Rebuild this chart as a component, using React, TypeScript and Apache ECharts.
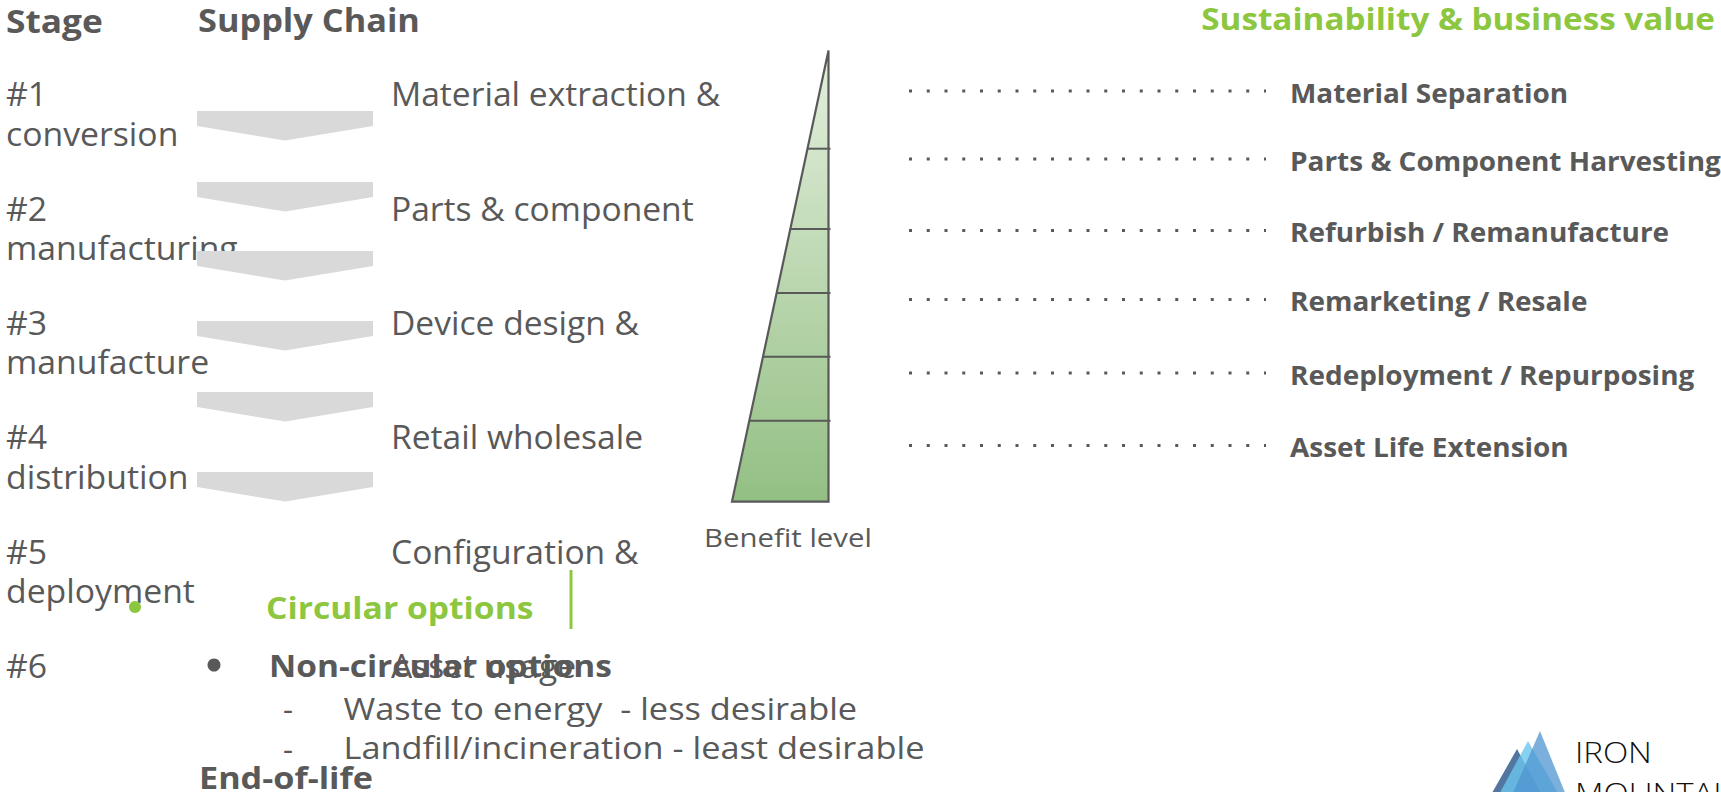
import React, { useEffect, useRef } from "react";
import * as echarts from "echarts";

// ---------- data ----------
const headers = ["Stage", "Supply Chain"];
const stageNums = ["#1", "#2", "#3", "#4", "#5", "#6"];
const stageNames = ["conversion", "manufacturing", "manufacture", "distribution", "deployment", ""];
const supplyChain = [
  "Material extraction &",
  "Parts & component",
  "Device design &",
  "Retail wholesale",
  "Configuration &",
  "Asset usage",
];
const valueTitle = "Sustainability & business value";
const valueOptions = [
  "Material Separation",
  "Parts & Component Harvesting",
  "Refurbish / Remanufacture",
  "Remarketing / Resale",
  "Redeployment / Repurposing",
  "Asset Life Extension",
];
const benefitLabel = "Benefit level";
const circularTitle = "Circular options";
const nonCircularTitle = "Non-circular options";
const nonCircularItems = ["Waste to energy  - less desirable", "Landfill/incineration - least desirable"];
const endOfLife = "End-of-life";
const logoWords = ["IRON", "MOUNTAIN"];

// ---------- layout ----------
const FONT = "'Open Sans', sans-serif";
const GREY = "#595959";
const GREEN = "#8dc63f";
const rowY0 = 94;
const rowGap = 114.4;
const lineGap = 39.5;
const chevronTops = [111, 182, 251, 321, 392, 472];
const triTop = { x: 828.5, y: 50.5 };
const triBottom = 501.6;
const triLeft = 732;
const triTicks = [148.7, 229, 293, 356.7, 420.7];
const valueY = [91, 159, 230.5, 299.6, 373, 445.6];

function txt(
  text: string,
  x: number,
  y: number,
  size: number,
  weight: any,
  color: string,
  sx = 1,
  align = "left",
  z = 1
) {
  return {
    type: "text",
    x,
    y,
    z,
    scaleX: sx,
    style: {
      text,
      fill: color,
      fontSize: size,
      fontWeight: weight,
      fontFamily: FONT,
      align,
      verticalAlign: "middle",
      textAlign: align,
      textVerticalAlign: "middle",
    },
  };
}

function buildOption() {
  const el: any[] = [];
  el.push(txt(headers[0], 6, 19.5, 33, "bold", GREY, 1.07));
  el.push(txt(headers[1], 198, 19.5, 33, "bold", GREY, 1.04));

  stageNums.forEach((s, i) => {
    const y = rowY0 + i * rowGap;
    el.push(txt(s, 6, y, 32, "normal", GREY, 1.055));
    if (stageNames[i]) el.push(txt(stageNames[i], 6, y + lineGap, 32, "normal", GREY, 1.055));
    el.push(txt(supplyChain[i], 391, y, 32, "normal", GREY, 1.05));
  });

  chevronTops.forEach((t) => {
    el.push({
      type: "polygon",
      z: 2,
      shape: { points: [[197, t], [373, t], [373, t + 15], [285, t + 29.5], [197, t + 15]] },
      style: { fill: "#d9d9d9" },
    });
  });

  // benefit triangle
  el.push({
    type: "polygon",
    z: 2,
    shape: { points: [[triTop.x, triTop.y], [triTop.x, triBottom], [triLeft, triBottom]] },
    style: {
      fill: new echarts.graphic.LinearGradient(0, 0, 0, 1, [
        { offset: 0, color: "#e4f0de" },
        { offset: 1, color: "#93bf83" },
      ]),
      stroke: GREY,
      lineWidth: 2.2,
      lineJoin: "miter",
    },
  });
  triTicks.forEach((y) => {
    const xl = triTop.x - ((y - triTop.y) / (triBottom - triTop.y)) * (triTop.x - triLeft);
    el.push({
      type: "line",
      z: 3,
      shape: { x1: xl, y1: y, x2: triTop.x + 2, y2: y },
      style: { stroke: GREY, lineWidth: 2 },
    });
  });
  el.push(txt(benefitLabel, 788, 537, 26, "normal", GREY, 1.13, "center"));

  // value options
  el.push(txt(valueTitle, 1715, 18, 31, "bold", GREEN, 1.073, "right"));
  valueOptions.forEach((v, i) => {
    const y = valueY[i];
    el.push({
      type: "line",
      z: 1,
      shape: { x1: 909, y1: y, x2: 1266, y2: y },
      style: { stroke: GREY, lineWidth: 3, lineDash: [3, 14.75] },
    });
    el.push(txt(v, 1290, y + 1.5, 26, "bold", GREY, 1.075));
  });

  // circular / non-circular
  el.push({ type: "circle", z: 4, shape: { cx: 135, cy: 607, r: 6 }, style: { fill: GREEN } });
  el.push(txt(circularTitle, 266, 607, 31, "bold", GREEN, 1.085));
  el.push({ type: "line", z: 4, shape: { x1: 571, y1: 570, x2: 571, y2: 629 }, style: { stroke: GREEN, lineWidth: 3 } });
  el.push({ type: "circle", z: 4, shape: { cx: 214, cy: 665, r: 6.5 }, style: { fill: GREY } });
  el.push(txt(nonCircularTitle, 269, 665, 31, "bold", GREY, 1.08, "left", 4));
  nonCircularItems.forEach((t, i) => {
    const y = 708 + i * 39.5;
    el.push(txt("-", 283, y, 31, "normal", GREY));
    el.push(txt(t, 343.5, y, 31, "normal", GREY, 1.108));
  });
  el.push(txt(endOfLife, 199, 777, 30, "bold", GREY, 1.14));

  // logo
  el.push({ type: "polygon", z: 5, shape: { points: [[1517, 749], [1545, 800], [1488, 800]] }, style: { fill: "#4a6f9c", opacity: 0.95 } });
  el.push({ type: "polygon", z: 6, shape: { points: [[1528, 741], [1562, 800], [1496, 800]] }, style: { fill: "#6cc6ee", opacity: 0.8 } });
  el.push({ type: "polygon", z: 7, shape: { points: [[1540, 731], [1568, 800], [1510, 800]] }, style: { fill: "#4f96d0", opacity: 0.75 } });
  el.push(txt(logoWords[0], 1575, 751, 30, 300, "#111111", 1.1, "left", 5));
  el.push(txt(logoWords[1], 1575, 792, 30, 300, "#111111", 1.1, "left", 5));

  return { animation: false, graphic: { elements: el } };
}

export default function App() {
  const ref = useRef<HTMLDivElement>(null);
  useEffect(() => {
    document.body.style.margin = "0";
    const chart = echarts.init(ref.current!, null, { renderer: "svg" });
    chart.setOption(buildOption() as any);
    return () => chart.dispose();
  }, []);
  return <div ref={ref} style={{ width: 1721, height: 792 }} />;
}
